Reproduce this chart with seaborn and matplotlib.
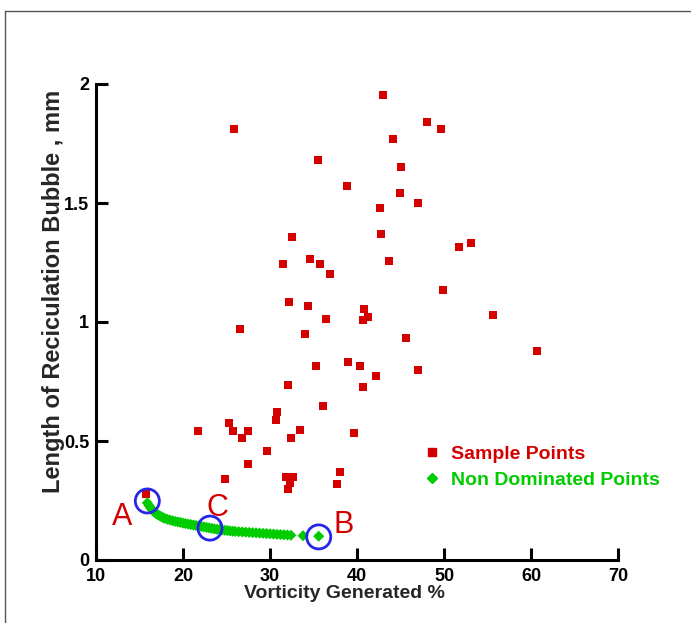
import pandas as pd
import matplotlib.pyplot as plt
import seaborn as sns
from matplotlib.lines import Line2D

# sampled designs (red squares)
sample_x = [43.0, 25.9, 48.0, 49.7, 44.1, 35.5, 45.1, 38.9, 44.9, 42.6,
            47.0, 32.5, 42.8, 51.7, 53.1, 34.6, 43.7, 31.5, 35.7, 36.9,
            49.9, 55.6, 60.7, 32.2, 34.4, 40.8, 41.3, 40.7, 36.4, 26.6,
            34.0, 45.6, 35.3, 39.0, 40.3, 42.2, 40.7, 32.1, 47.0, 36.1,
            30.8, 30.7, 21.7, 25.3, 25.7, 27.5, 26.8, 33.4, 32.4, 39.7,
            29.7, 27.5, 24.8, 31.8, 32.6, 32.3, 32.1, 38.0, 37.7, 15.7]
sample_y = [1.954, 1.81, 1.84, 1.81, 1.77, 1.68, 1.65, 1.57, 1.54, 1.48,
            1.50, 1.357, 1.37, 1.315, 1.33, 1.265, 1.255, 1.245, 1.243, 1.20,
            1.134, 1.03, 0.878, 1.084, 1.067, 1.055, 1.02, 1.008, 1.013, 0.97,
            0.95, 0.933, 0.815, 0.832, 0.815, 0.773, 0.727, 0.735, 0.80, 0.647,
            0.622, 0.588, 0.542, 0.575, 0.542, 0.542, 0.513, 0.546, 0.513, 0.534,
            0.458, 0.403, 0.34, 0.349, 0.349, 0.323, 0.30, 0.37, 0.319, 0.277]

# pareto front (green diamonds)
front_x = [15.9, 16.1, 16.3, 16.5, 16.7, 16.9, 17.1, 17.3, 17.5, 17.7,
           17.9, 18.2, 18.5, 18.8, 19.1, 19.4, 19.7, 20.0, 20.3, 20.6,
           20.9, 21.2, 21.5, 21.8, 22.1, 22.4, 22.7, 23.0, 23.3, 23.6,
           23.9, 24.2, 24.5, 24.8, 25.1, 25.4, 25.7, 26.0, 26.4, 26.8,
           27.2, 27.6, 28.0, 28.4, 28.8, 29.2, 29.6, 30.0, 30.4, 30.8,
           31.2, 31.6, 32.0, 32.4, 33.8, 35.6]
front_y = [0.240, 0.228, 0.218, 0.209, 0.201, 0.195, 0.190, 0.186, 0.182, 0.178,
           0.175, 0.171, 0.168, 0.165, 0.162, 0.160, 0.158, 0.155, 0.153, 0.151,
           0.149, 0.147, 0.145, 0.143, 0.141, 0.139, 0.137, 0.135, 0.133, 0.131,
           0.129, 0.128, 0.126, 0.125, 0.124, 0.122, 0.121, 0.120, 0.119, 0.118,
           0.117, 0.116, 0.115, 0.114, 0.113, 0.112, 0.111, 0.110, 0.109, 0.108,
           0.107, 0.106, 0.105, 0.104, 0.102, 0.100]

# highlighted designs
marked_labels = ["A", "C", "B"]
marked_x = [15.9, 23.1, 35.6]
marked_y = [0.248, 0.134, 0.097]

x_ticks = [10, 20, 30, 40, 50, 60, 70]
y_ticks = [0, 0.5, 1, 1.5, 2]
y_tick_labels = ["0", "0.5", "1", "1.5", "2"]

RED = "#d40000"
GREEN = "#00cc00"
BLUE = "#2626e8"
LABEL_OFFSETS = {"A": (-25, -16), "C": (7, 20), "B": (25, 12)}

df = pd.concat([
    pd.DataFrame({"x": sample_x, "y": sample_y, "kind": "Sample Points"}),
    pd.DataFrame({"x": front_x, "y": front_y, "kind": "Non Dominated Points"}),
], ignore_index=True)

sns.set_theme(style="white")
plt.rcParams["font.family"] = ["Liberation Sans", "DejaVu Sans"]

fig = plt.figure(figsize=(6.91, 6.23), dpi=100)
ax = fig.add_axes([96 / 691, 63 / 623, 522 / 691, 476 / 623])

sns.scatterplot(
    data=df, x="x", y="y", hue="kind", style="kind", size="kind",
    palette={"Sample Points": RED, "Non Dominated Points": GREEN},
    markers={"Sample Points": "s", "Non Dominated Points": "D"},
    sizes={"Sample Points": 33, "Non Dominated Points": 32},
    linewidth=0, legend=False, ax=ax,
)

# circles round A, B, C
ax.scatter(marked_x, marked_y, s=300, facecolors="none",
           edgecolors=BLUE, linewidths=2.0, zorder=5)
for lbl, mx, my in zip(marked_labels, marked_x, marked_y):
    ax.annotate(lbl, (mx, my), xytext=LABEL_OFFSETS[lbl], textcoords="offset pixels",
                ha="center", va="center", color=RED, fontsize=22)

ax.set_xlim(10, 70)
ax.set_ylim(0, 2)
ax.set_xticks(x_ticks)
ax.set_yticks(y_ticks)
ax.set_yticklabels(y_tick_labels)
ax.tick_params(direction="in", length=8.6, width=2.2, labelsize=13,
               colors="black", left=True, bottom=True)
ax.tick_params(axis="x", pad=6)
ax.tick_params(axis="y", pad=5)
plt.setp(ax.get_xticklabels() + ax.get_yticklabels(), fontweight="bold")

for side in ["top", "right"]:
    ax.spines[side].set_visible(False)
for side in ["left", "bottom"]:
    ax.spines[side].set_linewidth(2.2)
    ax.spines[side].set_color("black")

ax.set_xlabel("Vorticity Generated %", fontsize=14, fontweight="bold")
ax.set_ylabel("Length of Reciculation Bubble , mm", fontsize=17, fontweight="bold")
ax.xaxis.set_label_coords(0.475, -0.052)
ax.yaxis.set_label_coords(-0.06, 0.565)

handles = [
    Line2D([], [], marker="s", color=RED, ls="", ms=5.8),
    Line2D([], [], marker="D", color=GREEN, ls="", ms=5.4),
]
ax.legend(handles, ["Sample Points", "Non Dominated Points"],
          loc="upper left", bbox_to_anchor=(422 / 691, 1 - 445 / 623),
          bbox_transform=fig.transFigure, frameon=False, borderpad=0,
          borderaxespad=0, handlelength=1.0, handletextpad=0.5,
          labelspacing=0.45, labelcolor=[RED, GREEN],
          prop={"weight": "bold", "size": 14})

# frame round the figure (only top and left visible in the source)
fig.add_artist(Line2D([4.5 / 691, 4.5 / 691], [0, 1 - 10.5 / 623],
                      transform=fig.transFigure, color="#555555", lw=1))
fig.add_artist(Line2D([4.5 / 691, 1], [1 - 10.5 / 623, 1 - 10.5 / 623],
                      transform=fig.transFigure, color="#555555", lw=1))

fig.savefig("out.png", dpi=100)
